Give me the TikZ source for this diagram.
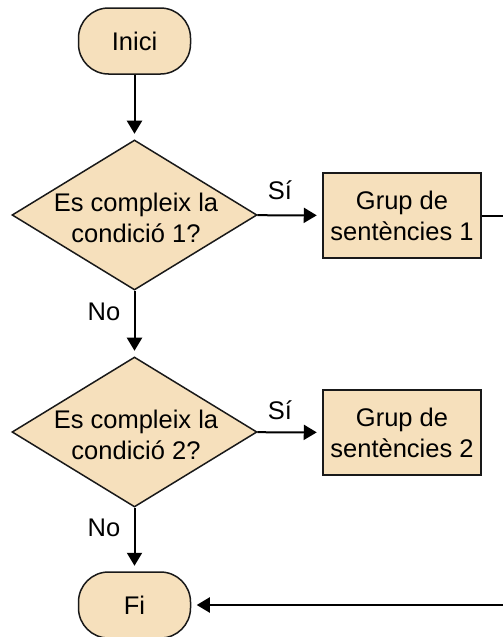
\documentclass[tikz,border=0pt]{standalone}
\usepackage{fontspec}
\setmainfont{Liberation Sans}
\usetikzlibrary{shapes.geometric,arrows.meta}
\definecolor{boxfill}{RGB}{246,224,188}
\begin{document}
\begin{tikzpicture}[x=1pt,y=-1pt,
  every node/.style={font=\fontsize{25.5}{31}\selectfont},
  terminal/.style={rectangle, draw=black!90, line width=1.5pt, fill=boxfill,
    rounded corners=30pt, minimum width=112pt, minimum height=66pt, inner sep=0},
  decision/.style={diamond, draw=black!90, line width=1.5pt, fill=boxfill,
    minimum width=245pt, minimum height=150pt, inner sep=0},
  process/.style={rectangle, draw=black!90, line width=1.5pt, fill=boxfill,
    minimum width=158pt, minimum height=85pt, align=center, inner sep=0},
  flow/.style={line width=2pt, -{Triangle[length=13pt,width=15pt]}, shorten >=5.5pt},
  plain/.style={line width=2pt}]
\useasboundingbox (0,0) rectangle (503,637);

% shapes
\node[terminal] (start) at (134.5,41) {Inici};
\node[decision] (d1) at (134.5,215) {};
\node[align=center] (d1t) at (136,218) {Es compleix la\\condició 1?};
\node[process] (p1) at (402,215.5) {Grup de\\sentències 1};
\node[decision] (d2) at (134.5,432) {};
\node[align=center] (d2t) at (136,435) {Es compleix la\\condició 2?};
\node[process] (p2) at (402,432.5) {Grup de\\sentències 2};
\node[terminal] (end) at (134.5,605) {Fi};

% loose ends at the right border
\coordinate (e1) at (503,215.5);
\coordinate (e2) at (503,605);

% branch labels
\node (s1) at (280,190) {Sí};
\node (s2) at (280,410) {Sí};
\node (n1) at (104,312) {No};
\node (n2) at (104,528) {No};

% connectors
\draw[flow] (start) -- (d1);
\draw[flow] (d1) -- (p1);
\draw[flow] (d1) -- (d2);
\draw[flow] (d2) -- (p2);
\draw[flow] (d2) -- (end);
\draw[plain] (p1.east) -- (e1);
\draw[flow] (e2) -- (end);
\end{tikzpicture}
\end{document}
